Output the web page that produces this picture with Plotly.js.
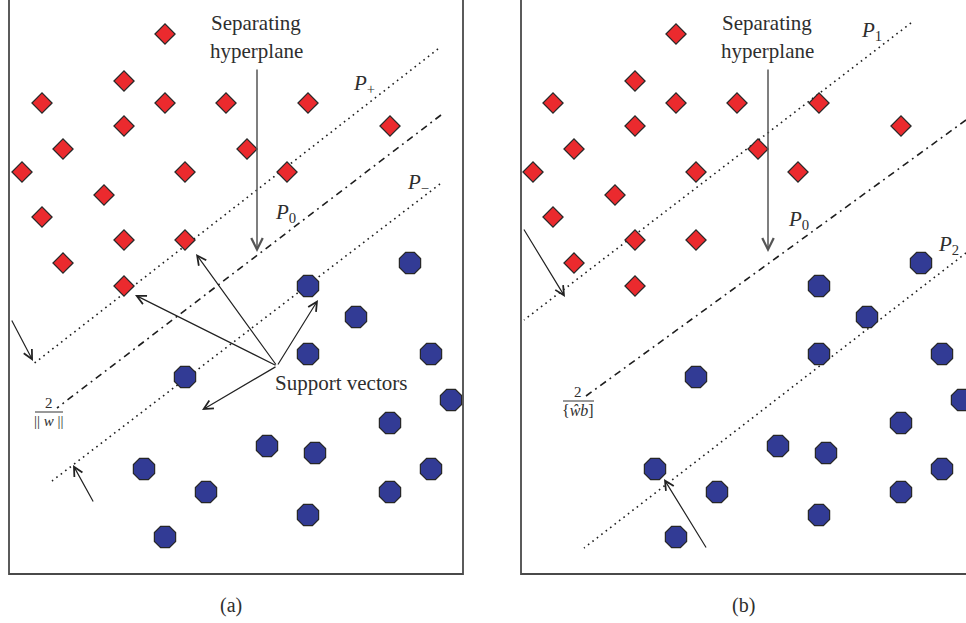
<!DOCTYPE html>
<html>
<head>
<meta charset="utf-8">
<script src="https://cdn.plot.ly/plotly-3.0.1.min.js"></script>
<style>html,body{margin:0;padding:0;background:#fff;}#chart{width:966px;height:623px;}</style>
</head>
<body>
<div id="chart"></div>
<script>
// Shared sample points (panel-local coordinates), same in (a) and (b)
const posX = [165,124,42,165,226,308,124,390,63,247,22,185,287,104,42,124,185,63,124];
const posY = [34,81,103,103,103,103,126,126,149,149,172,172,172,195,217,240,240,263,286];
const negX = [410,308,356,308,431,185,451,390,267,315,144,431,206,390,308,165];
const negY = [263,286,317,354,354,377,400,423,446,453,469,469,492,492,515,537];

// Panel (a) hyperplanes: P+, P0, P-
const aPlusX = [438, 32],  aPlusY = [49, 365];
const aZeroX = [441, 57],  aZeroY = [115, 408];
const aMinusX = [440, 52], aMinusY = [184, 481];
// Panel (b) hyperplanes: P1, P0, P2
const bOneX = [400, 13],   bOneY = [23, 320];
const bZeroX = [455, 75],  bZeroY = [120, 396];
const bTwoX = [455, 73],   bTwoY = [253, 548];

// Arrows [tailX, tailY, headX, headY]
const sepArrow = [257, 68, 257, 252];
const supportTail = [277, 366];
const supportHeadsX = [196, 135, 318, 202];
const supportHeadsY = [254, 295, 300, 410];
const aMarginArrows = [[11, 319, 33, 361], [94, 503, 73, 465]];
const bMarginArrows = [[12, 228, 54, 297], [196, 549, 153, 479]];

const serif = 'Liberation Serif, serif';
const txt = '#2e2e2e';

function lineTrace(xs, ys, xa, dash) {
  return {x: xs, y: ys, xaxis: xa, yaxis: 'y', mode: 'lines', hoverinfo: 'skip',
    line: {color: '#1e1e1e', width: 1.6, dash: dash}, showlegend: false};
}
function pts(xa, xs, ys, sym, size, color) {
  return {x: xs, y: ys, xaxis: xa, yaxis: 'y', mode: 'markers', cliponaxis: false, showlegend: false,
    marker: {symbol: sym, size: size, color: color, line: {color: '#262626', width: 1.2}}};
}
const DOT = '1.6px,4px';
const DASHDOT = '7px,4.5px,1.8px,4.5px';

const traces = [
  lineTrace(aPlusX, aPlusY, 'x', DOT),
  lineTrace(aZeroX, aZeroY, 'x', DASHDOT),
  lineTrace(aMinusX, aMinusY, 'x', DOT),
  lineTrace(bOneX, bOneY, 'x2', DOT),
  lineTrace(bZeroX, bZeroY, 'x2', DASHDOT),
  lineTrace(bTwoX, bTwoY, 'x2', DOT),
  pts('x', posX, posY, 'diamond', 15.5, '#EB2A2E'),
  pts('x', negX, negY, 'octagon', 23, '#323B95'),
  pts('x2', posX, posY, 'diamond', 15.5, '#EB2A2E'),
  pts('x2', negX, negY, 'octagon', 23, '#323B95')
];

function arrow(xa, a, color, w) {
  return {xref: xa, yref: 'y', axref: xa, ayref: 'y', x: a[2], y: a[3], ax: a[0], ay: a[1],
    text: '', showarrow: true, arrowhead: 5, arrowsize: 1.5, arrowwidth: w, arrowcolor: color};
}
function label(xa, x, y, text, size) {
  return {xref: xa, yref: 'y', x: x, y: y, text: text, showarrow: false,
    font: {family: serif, size: size, color: txt}};
}

const annotations = [];
['x', 'x2'].forEach(xa => {
  annotations.push(label(xa, 256, 23, 'Separating', 21));
  annotations.push(label(xa, 256, 51, 'hyperplane', 21));
  annotations.push(arrow(xa, sepArrow, '#555', 1.5));
});
annotations.push(label('x', 364, 84, '<i>P</i><sub>+</sub>', 21));
annotations.push(label('x', 285, 213, '<i>P</i><sub>0</sub>', 21));
annotations.push(label('x', 418, 183, '<i>P</i><sub>−</sub>', 21));
annotations.push(label('x', 341, 383, 'Support vectors', 21));
supportHeadsX.forEach((hx, i) => {
  annotations.push(arrow('x', [supportTail[0], supportTail[1], hx, supportHeadsY[i]], '#222', 1.2));
});
aMarginArrows.forEach(a => annotations.push(arrow('x', a, '#222', 1.2)));
annotations.push(label('x', 49, 403, '2', 15));
annotations.push(label('x', 49, 421, '|| <i>w</i> ||', 15));

annotations.push(label('x2', 360, 31, '<i>P</i><sub>1</sub>', 21));
annotations.push(label('x2', 287, 220, '<i>P</i><sub>0</sub>', 21));
annotations.push(label('x2', 437, 245, '<i>P</i><sub>2</sub>', 21));
bMarginArrows.forEach(a => annotations.push(arrow('x2', a, '#222', 1.2)));
annotations.push(label('x2', 67, 392, '2', 15));
annotations.push(label('x2', 67, 410, '{<i>ŵb</i>]', 16));

annotations.push(label('x', 231, 605, '(a)', 20));
annotations.push(label('x2', 232, 605, '(b)', 20));

const shapes = [
  {type: 'rect', xref: 'x', yref: 'y', x0: 9, x1: 463, y0: -3, y1: 574, line: {color: '#4a4a4a', width: 1.8}},
  {type: 'rect', xref: 'x2', yref: 'y', x0: 10, x1: 475, y0: -3, y1: 574, line: {color: '#4a4a4a', width: 1.8}},
  {type: 'line', xref: 'x', yref: 'y', x0: 35, x1: 63, y0: 412, y1: 412, line: {color: '#333', width: 1}},
  {type: 'line', xref: 'x2', yref: 'y', x0: 52, x1: 83, y0: 401, y1: 401, line: {color: '#333', width: 1}}
];

const ax = {showgrid: false, zeroline: false, showticklabels: false, ticks: '', showline: false, fixedrange: true};
const layout = {
  width: 966, height: 623,
  margin: {l: 0, r: 0, t: 0, b: 0},
  paper_bgcolor: '#fff', plot_bgcolor: 'rgba(0,0,0,0)',
  xaxis: Object.assign({}, ax, {domain: [0, 0.5], range: [0, 483], anchor: 'y'}),
  xaxis2: Object.assign({}, ax, {domain: [0.5, 1], range: [-28, 455], anchor: 'y'}),
  yaxis: Object.assign({}, ax, {domain: [0, 1], range: [623, 0], anchor: 'x'}),
  shapes: shapes,
  annotations: annotations,
  showlegend: false
};
Plotly.newPlot('chart', traces, layout, {staticPlot: true, displayModeBar: false});
</script>
</body>
</html>
